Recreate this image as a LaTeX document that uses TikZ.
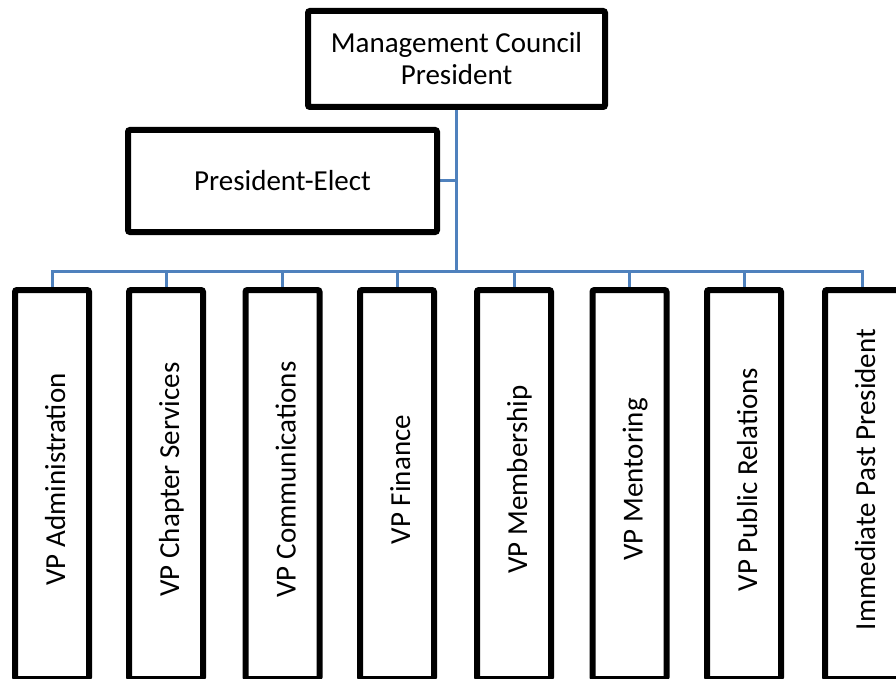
\documentclass[tikz,border=0pt]{standalone}
\usepackage{fontspec}
\setmainfont{Carlito}
\usetikzlibrary{backgrounds}
\definecolor{linkblue}{RGB}{79,129,189}
\begin{document}
\begin{tikzpicture}[x=1pt,y=-1pt,
  box/.style={draw=black,line width=6pt,fill=white,rounded corners=2pt,inner sep=0pt,align=center,font=\fontsize{29}{32}\selectfont},
  vbox/.style={box,minimum width=74pt,minimum height=389pt},
  vtext/.style={rotate=90,anchor=base,inner sep=0pt,font=\fontsize{29}{32}\selectfont},
  link/.style={draw=linkblue,line width=3pt}]
\useasboundingbox (0,0) rectangle (896,679);
\clip (0,0) rectangle (896,679);
\node[box,minimum width=297pt,minimum height=96pt] (mcp) at (456.5,59) {Management Council\\President};
\node[box,minimum width=309pt,minimum height=102pt] (pe) at (282.5,181) {President-Elect};
\coordinate (busy) at (0,271);
\coordinate (bus) at (mcp.south |- busy);
\node[vbox] (b1) at (52,484.5) {};
\node[vbox] (b2) at (166,484.5) {};
\node[vbox] (b3) at (282.5,484.5) {};
\node[vbox] (b4) at (397,484.5) {};
\node[vbox] (b5) at (514,484.5) {};
\node[vbox] (b6) at (629.5,484.5) {};
\node[vbox] (b7) at (744,484.5) {};
\node[vbox] (b8) at (862,484.5) {};
\node[vtext] (t1) at ([xshift=13pt,yshift=5pt]b1.center) {VP Administration};
\node[vtext] (t2) at ([xshift=13pt,yshift=5pt]b2.center) {VP Chapter Services};
\node[vtext] (t3) at ([xshift=13pt,yshift=5pt]b3.center) {VP Communications};
\node[vtext] (t4) at ([xshift=13pt,yshift=5pt]b4.center) {VP Finance};
\node[vtext] (t5) at ([xshift=13pt,yshift=5pt]b5.center) {VP Membership};
\node[vtext] (t6) at ([xshift=13pt,yshift=5pt]b6.center) {VP Mentoring};
\node[vtext] (t7) at ([xshift=13pt,yshift=5pt]b7.center) {VP Public Relations};
\node[vtext] (t8) at ([xshift=13pt,yshift=5pt]b8.center) {Immediate Past President};
\begin{pgfonlayer}{background}
\draw[link] (mcp.south) -- (bus);
\draw[link] (pe.east) -- (pe.east -| bus);
\draw[link] (b1.north) |- (bus) -| (b8.north);
\foreach \b in {b2,b3,b4,b5,b6,b7}{
  \draw[link] (\b.north) -- (\b.north |- bus);
}
\end{pgfonlayer}
\end{tikzpicture}
\end{document}
